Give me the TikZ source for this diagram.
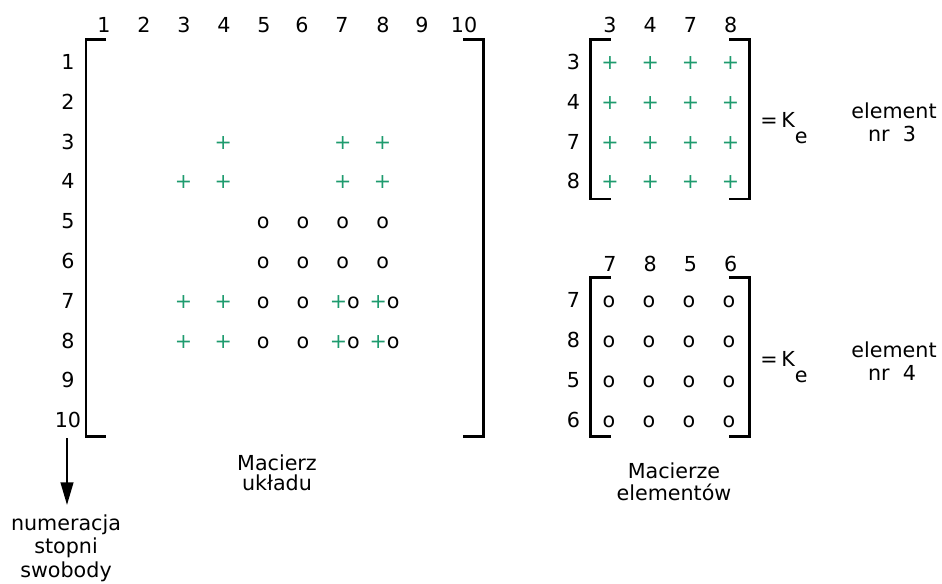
\documentclass[tikz,border=0pt]{standalone}
\usepackage{fontspec}
\setmainfont{DejaVu Sans}
\usetikzlibrary{arrows.meta}
\definecolor{pgreen}{RGB}{30,155,110}
\begin{document}
\begin{tikzpicture}[x=0.75pt,y=-0.75pt,
  lbl/.style={font=\fontsize{15.5}{18}\selectfont, inner sep=0pt, anchor=base},
  plusent/.style={lbl, text=pgreen},
  circent/.style={lbl},
  brk/.style={line width=2pt},
  arr/.style={line width=1.6pt, -{Triangle[length=17pt,width=9.5pt]}},
]
\useasboundingbox (0,0) rectangle (942,583);

% ---------- big matrix ----------
\foreach \j/\xx in {1/104,2/144,3/184,4/224,5/264,6/302,7/342,8/383,9/422,10/464}
  \node[lbl] (bh\j) at (\xx,32) {\j};
\foreach \i in {1,...,10}
  \node[lbl] (br\i) at (68,{69.5+(\i-1)*39.8}) {\i};

\draw[brk] (106,39.3) -- (86,39.3) -- (86,436.7) -- (106,436.7);
\draw[brk] (463.3,39.3) -- (483.3,39.3) -- (483.3,436.7) -- (463.3,436.7);

% plus entries
\foreach \n/\xx/\yy in {a/223.4/149.1, b/342.8/149.1, c/382.6/149.1,
  d/183.6/188.9, e/223.4/188.9, f/342.8/188.9, g/382.6/188.9,
  h/183.6/308.3, i/223.4/308.3, j/183.6/348.1, k/223.4/348.1}
  \node[plusent] (bp\n) at (\xx,\yy) {+};
% circle entries
\foreach \n/\xx/\yy in {a/263.2/228.7, b/303/228.7, c/342.8/228.7, d/382.6/228.7,
  e/263.2/268.5, f/303/268.5, g/342.8/268.5, h/382.6/268.5,
  i/263.2/308.3, j/303/308.3, k/263.2/348.1, l/303/348.1}
  \node[circent] (bc\n) at (\xx,\yy) {o};
% combined entries
\foreach \n/\xx/\yy in {a/344.8/308.3, b/384.6/308.3, c/344.8/348.1, d/384.6/348.1}
  \node[lbl] (bx\n) at (\xx,\yy) {\textcolor{pgreen}{+}o};

\node[lbl] (mu1) at (277,470) {Macierz};
\node[lbl] (mu2) at (277,490) {układu};

\coordinate (atop) at (67,438);
\coordinate (atip) at (67,505);
\draw[arr] (atop) -- (atip);
\node[lbl] (ns1) at (66,530) {numeracja};
\node[lbl] (ns2) at (66,553.5) {stopni};
\node[lbl] (ns3) at (66,577) {swobody};

% ---------- element matrix 3 ----------
\foreach \j/\xx in {3/610,4/650.2,7/690.4,8/730.6}
  \node[lbl] (ah\j) at (\xx,32.5) {\j};
\foreach \i/\yy in {3/69.5,4/109.3,7/149.1,8/188.9}
  \node[lbl] (ar\i) at (573.5,\yy) {\i};
\foreach \yy [count=\r] in {69.5,109.3,149.1,188.9}
  \foreach \xx [count=\c] in {610,650.2,690.4,730.6}
    \node[plusent] (ap\r\c) at (\xx,\yy) {+};
\draw[brk] (610.7,39.3) -- (590.7,39.3) -- (590.7,199) -- (610.7,199);
\draw[brk] (729.3,39.3) -- (749.3,39.3) -- (749.3,199) -- (729.3,199);
\node[lbl, anchor=base west] (ake) at (760,127) {=\hspace{0.18em}K\raisebox{-12.5pt}{e}};
\node[lbl] (ael1) at (894,118) {element};
\node[lbl] (ael2) at (892,141) {nr\ \ 3};

% ---------- element matrix 4 ----------
\foreach \j/\xx in {7/610,8/650.2,5/690.4,6/730.6}
  \node[lbl] (eh\j) at (\xx,271) {\j};
\foreach \i/\yy in {7/307.5,8/347.5,5/387.5,6/427.5}
  \node[lbl] (er\i) at (573.5,\yy) {\i};
\foreach \yy [count=\r] in {307.5,347.5,387.5,427.5}
  \foreach \xx [count=\c] in {609,649,689,729}
    \node[circent] (ec\r\c) at (\xx,\yy) {o};
\draw[brk] (610.7,277.3) -- (590.7,277.3) -- (590.7,436.7) -- (610.7,436.7);
\draw[brk] (729.3,277.3) -- (749.3,277.3) -- (749.3,436.7) -- (729.3,436.7);
\node[lbl, anchor=base west] (eke) at (760,366) {=\hspace{0.18em}K\raisebox{-12.5pt}{e}};
\node[lbl] (eel1) at (894,357) {element};
\node[lbl] (eel2) at (892,380) {nr\ \ 4};

\node[lbl] (me1) at (674,478) {Macierze};
\node[lbl] (me2) at (674,500) {elementów};
\end{tikzpicture}
\end{document}
